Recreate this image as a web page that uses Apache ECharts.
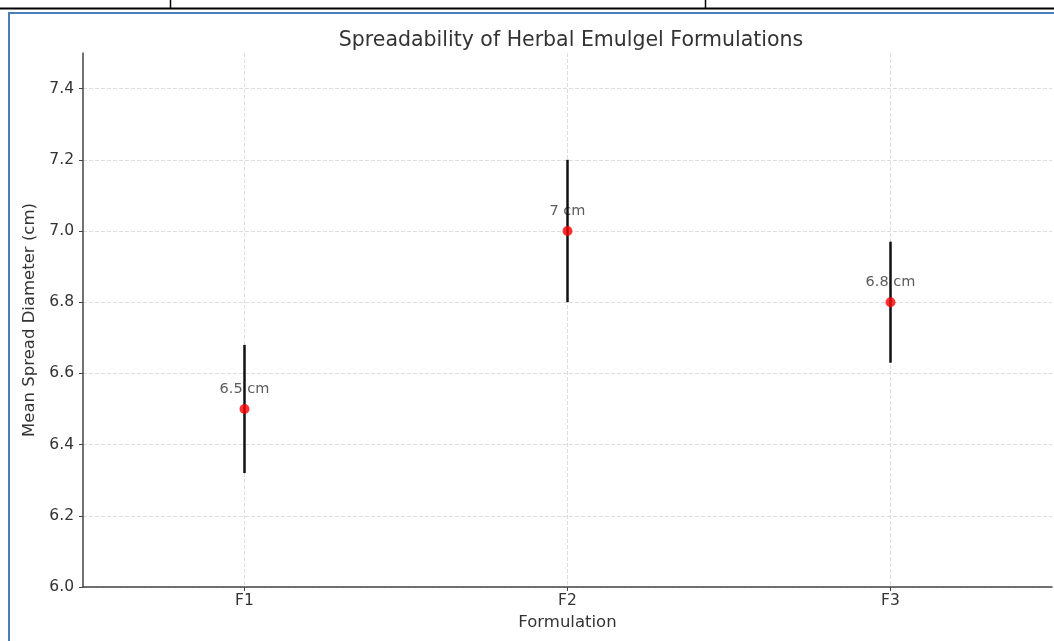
<!DOCTYPE html>
<html>
<head>
<meta charset="utf-8">
<script src="https://cdn.jsdelivr.net/npm/echarts@6/dist/echarts.min.js"></script>
<style>
html,body{margin:0;padding:0;background:#fff;}
#c{width:1054px;height:641px;}
</style>
</head>
<body>
<div id="c"></div>
<script>
const categories = ['F1', 'F2', 'F3'];
const means = [6.5, 7.0, 6.8];
const errors = [0.18, 0.2, 0.17];
const yTicks = [6.0, 6.2, 6.4, 6.6, 6.8, 7.0, 7.2, 7.4];

const pts = means.map((m, i) => [i, m]);
const bars = means.map((m, i) => [i, m - errors[i], m + errors[i]]);
const FONT = 'DejaVu Sans';

const chart = echarts.init(document.getElementById('c'), null, {renderer: 'canvas'});
chart.setOption({
  animation: false,
  textStyle: {fontFamily: FONT},
  title: {
    text: 'Spreadability of Herbal Emulgel Formulations',
    left: 566, top: 25, textAlign: 'center',
    textStyle: {fontFamily: FONT, fontSize: 20.5, fontWeight: 'normal', color: '#333'}
  },
  grid: {left: 83, right: 2, top: 53, bottom: 54, containLabel: false},
  xAxis: {
    type: 'value', min: -0.5, max: 2.5,
    name: 'Formulation', nameLocation: 'middle', nameGap: 27,
    nameTextStyle: {fontFamily: FONT, fontSize: 16.5, color: '#333'},
    axisLine: {show: true, onZero: false, lineStyle: {color: '#444', width: 1.5}},
    axisTick: {show: true, length: 4, lineStyle: {color: '#444'}, customValues: [0, 1, 2]},
    axisLabel: {customValues: [0, 1, 2], margin: 6, fontFamily: FONT, fontSize: 15.5, color: '#333',
      formatter: v => categories[Math.round(v)] || ''},
    splitLine: {show: true, lineStyle: {color: '#dddddd', type: 'dashed', width: 1}}
  },
  yAxis: {
    type: 'value', min: 6.0, max: 7.5, interval: 0.2,
    name: 'Mean Spread Diameter (cm)', nameLocation: 'middle', nameGap: 41,
    nameTextStyle: {fontFamily: FONT, fontSize: 16.5, color: '#333'},
    axisLine: {show: true, onZero: false, lineStyle: {color: '#444', width: 1.5}},
    axisTick: {show: true, length: 4, lineStyle: {color: '#444'}, customValues: yTicks},
    axisLabel: {customValues: yTicks, margin: 9, fontFamily: FONT, fontSize: 15.5, color: '#333',
      formatter: v => v.toFixed(1)},
    splitLine: {show: true, lineStyle: {color: '#dddddd', type: 'dashed', width: 1}}
  },
  series: [
    {
      type: 'scatter', data: pts, symbolSize: 0, z: 1,
      label: {show: true, position: 'top', distance: 12, fontFamily: FONT, fontSize: 14.5, color: '#333',
        formatter: p => p.value[1] + ' cm'}
    },
    {
      type: 'custom', z: 2, data: bars,
      renderItem: (params, api) => {
        const top = api.coord([api.value(0), api.value(2)]);
        const bot = api.coord([api.value(0), api.value(1)]);
        return {type: 'line', shape: {x1: top[0], y1: top[1], x2: bot[0], y2: bot[1]},
          style: {stroke: '#111', lineWidth: 2.5}};
      }
    },
    {
      type: 'scatter', data: pts, symbol: 'circle', symbolSize: 10, z: 3,
      itemStyle: {color: '#ff0000'}
    }
  ],
  graphic: [
    {type: 'line', shape: {x1: 0, y1: 8.5, x2: 1054, y2: 8.5}, style: {stroke: '#000', lineWidth: 2}},
    {type: 'line', shape: {x1: 170.5, y1: 0, x2: 170.5, y2: 8}, style: {stroke: '#000', lineWidth: 1.5}},
    {type: 'line', shape: {x1: 705.5, y1: 0, x2: 705.5, y2: 8}, style: {stroke: '#000', lineWidth: 1.5}},
    {type: 'line', shape: {x1: 8, y1: 13, x2: 1054, y2: 13}, style: {stroke: '#4a7ebb', lineWidth: 2}},
    {type: 'line', shape: {x1: 9, y1: 12, x2: 9, y2: 641}, style: {stroke: '#4a7ebb', lineWidth: 2}}
  ]
});
</script>
</body>
</html>
